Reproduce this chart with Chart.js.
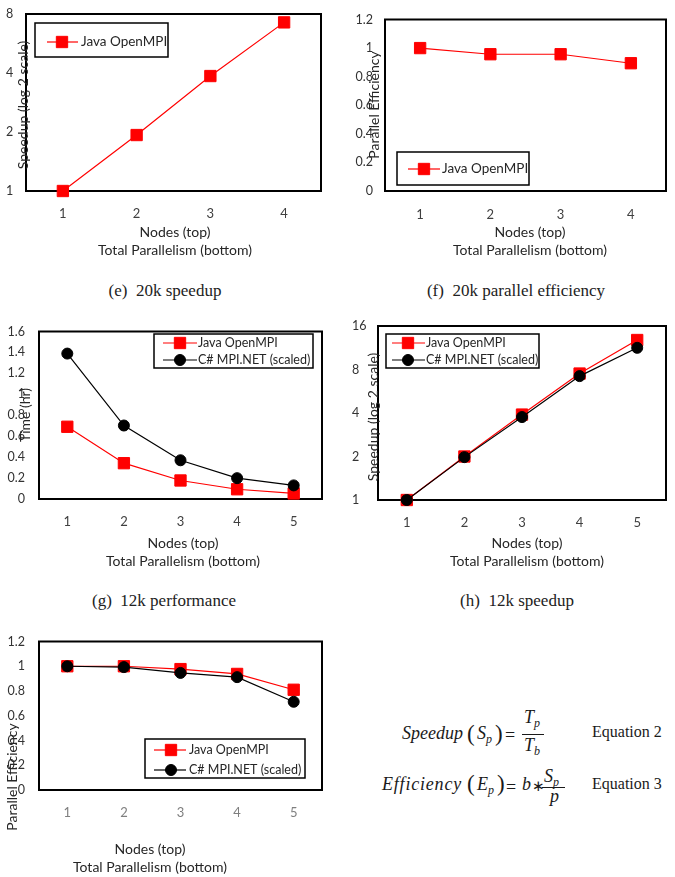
<!DOCTYPE html>
<html><head><meta charset="utf-8">
<script src="https://cdn.jsdelivr.net/npm/chart.js@4.4.1/dist/chart.umd.min.js"></script>
<style>
html,body{margin:0;padding:0;background:#fff;}
body{width:675px;height:877px;position:relative;overflow:hidden;}
canvas{position:absolute;}
.t{position:absolute;white-space:pre;line-height:1;transform:translateY(-50%);color:#1a1a1a;font-family:"Liberation Serif","Times New Roman",serif;}
.cap{font-size:17px;transform:translate(-50%,-50%);color:#222;}
.i{font-style:italic;font-size:18px;}
.sub{font-style:italic;font-size:12px;position:relative;top:4px;}
.par{font-size:23px;}
.bar{position:absolute;height:1px;background:#1a1a1a;}
</style></head><body>
<canvas id="cE" width="340" height="265" style="left:0;top:0"></canvas>
<canvas id="cF" width="335" height="265" style="left:340px;top:0"></canvas>
<canvas id="cG" width="340" height="270" style="left:0;top:310px"></canvas>
<canvas id="cH" width="335" height="270" style="left:340px;top:310px"></canvas>
<canvas id="cI" width="340" height="257" style="left:0;top:620px"></canvas>

<div class="t cap" style="left:165px;top:290px">(e)  20k speedup</div>
<div class="t cap" style="left:516px;top:290px">(f)  20k parallel efficiency</div>
<div class="t cap" style="left:164px;top:600px">(g)  12k performance</div>
<div class="t cap" style="left:517px;top:600px">(h)  12k speedup</div>

<!-- Equation 2 -->
<div class="t i" style="left:402px;top:733px">Speedup</div>
<div class="t par" style="left:467px;top:733px">(</div>
<div class="t i" style="left:477px;top:733px">S<span class="sub">p</span></div>
<div class="t par" style="left:495px;top:733px">)</div>
<div class="t" style="left:505px;top:735px;font-size:18px">=</div>
<div class="t i" style="left:524px;top:717px">T<span class="sub">p</span></div>
<div class="bar" style="left:522px;top:734px;width:22px"></div>
<div class="t i" style="left:524px;top:745px">T<span class="sub">b</span></div>
<div class="t" style="left:592px;top:732px;font-size:16px">Equation 2</div>

<!-- Equation 3 -->
<div class="t i" style="left:382px;top:784px;letter-spacing:0.8px">Efficiency</div>
<div class="t par" style="left:467px;top:783px">(</div>
<div class="t i" style="left:477px;top:784px">E<span class="sub">p</span></div>
<div class="t par" style="left:497px;top:783px">)</div>
<div class="t" style="left:506px;top:787px;font-size:18px">=</div>
<div class="t i" style="left:522px;top:784px">b</div>
<div class="t" style="left:532px;top:786px;font-size:15px">∗</div>
<div class="t i" style="left:544px;top:776px">S<span class="sub">p</span></div>
<div class="bar" style="left:542px;top:787px;width:23px"></div>
<div class="t i" style="left:550px;top:796px">p</div>
<div class="t" style="left:592px;top:784px;font-size:16px">Equation 3</div>

<script>
// ---------------- data ----------------
const nodes4 = ['1', '2', '3', '4'];
const nodes5 = ['1', '2', '3', '4', '5'];
const speedup20kJava = [1, 1.93, 3.86, 7.25];
const eff20kJava = [1.0, 0.957, 0.957, 0.894];
const time12kJava = [0.69, 0.342, 0.177, 0.093, 0.053];
const time12kCs = [1.389, 0.702, 0.37, 0.199, 0.13];
const speedup12kJava = [1, 2.0, 3.9, 7.5, 12.8];
const speedup12kCs = [1, 1.98, 3.75, 7.2, 11.3];
const eff12kJava = [1.0, 1.0, 0.977, 0.938, 0.81];
const eff12kCs = [1.0, 0.993, 0.946, 0.912, 0.713];
const ticksLog8 = [1, 2, 4, 8];
const ticksLog16 = [1, 2, 4, 8, 16];
const ticksEff = [0, 0.2, 0.4, 0.6, 0.8, 1, 1.2];
const ticksTime = [0, 0.2, 0.4, 0.6, 0.8, 1, 1.2, 1.4, 1.6];
const nameJava = 'Java OpenMPI';
const nameCs = 'C# MPI.NET (scaled)';

// ---------------- styles ----------------
function javaDs(data) {
  return { label: nameJava, data, borderColor: '#ff0000', backgroundColor: '#ff0000',
    borderWidth: 1.2, pointStyle: 'rect', pointRadius: 8, pointBorderWidth: 1,
    pointBorderColor: '#ff0000', tension: 0, clip: false, order: 1 };
}
function csDs(data) {
  return { label: nameCs, data, borderColor: '#000000', backgroundColor: '#000000',
    borderWidth: 1.2, pointStyle: 'circle', pointRadius: 5.5, pointBorderWidth: 1,
    pointBorderColor: '#000000', tension: 0, clip: false, order: 0 };
}

const decoPlugin = {
  id: 'deco',
  beforeDatasetsDraw(chart, args, o) {
    const { ctx, chartArea: a } = chart;
    ctx.save();
    ctx.strokeStyle = '#000';
    ctx.lineWidth = 2;
    ctx.strokeRect(a.left, a.top, a.right - a.left, a.bottom - a.top);
    ctx.restore();
  },
  afterDraw(chart, args, o) {
    const ctx = chart.ctx;
    ctx.save();
    ctx.fillStyle = '#262626';
    ctx.textBaseline = 'middle';
    ctx.font = '14px Lato';
    ctx.textAlign = 'center';
    o.xTitle.lines.forEach((t, i) => ctx.fillText(t, o.xTitle.x, o.xTitle.y[i]));
    ctx.save();
    ctx.translate(o.yTitle.x, o.yTitle.y);
    ctx.rotate(-Math.PI / 2);
    ctx.fillText(o.yTitle.text, 0, 0);
    ctx.restore();
    const L = o.legend;
    ctx.fillStyle = '#fff';
    ctx.fillRect(L.box[0], L.box[1], L.box[2] - L.box[0], L.box[3] - L.box[1]);
    ctx.strokeStyle = '#000';
    ctx.lineWidth = 1.5;
    ctx.strokeRect(L.box[0], L.box[1], L.box[2] - L.box[0], L.box[3] - L.box[1]);
    chart.data.datasets.forEach((ds, i) => {
      const y = L.rows[i];
      ctx.strokeStyle = ds.borderColor;
      ctx.lineWidth = 1.2;
      ctx.beginPath();
      ctx.moveTo(L.line[0], y); ctx.lineTo(L.line[1], y); ctx.stroke();
      ctx.fillStyle = ds.backgroundColor;
      ctx.strokeStyle = ds.pointBorderColor;
      ctx.lineWidth = 1;
      Chart.helpers.drawPoint(ctx, { pointStyle: ds.pointStyle, radius: ds.pointRadius, borderWidth: 1, rotation: 0 }, L.marker, y);
      ctx.fillStyle = '#262626';
      ctx.font = L.font + 'px Lato';
      ctx.textAlign = 'left';
      ctx.fillText(ds.label, L.text, y);
    });
    ctx.restore();
  }
};

function fmt(v) { return String(+(+v).toFixed(2)); }

function makeChart(id, c) {
  return new Chart(document.getElementById(id), {
    type: 'line',
    data: { labels: c.labels, datasets: c.datasets },
    options: {
      responsive: false, animation: false, devicePixelRatio: 1,
      layout: { padding: c.padding },
      plugins: { legend: { display: false }, tooltip: { enabled: false }, deco: c.deco },
      scales: {
        x: {
          type: 'category', offset: true,
          grid: { display: false, drawTicks: false }, border: { display: false },
          ticks: { color: c.xColor || '#404040', font: { family: 'Lato', size: 13 }, padding: c.xPad, maxRotation: 0, autoSkip: false },
          afterFit: s => { s.height = c.xH; }
        },
        y: {
          type: c.yType, min: c.yTicks[0], max: c.yTicks[c.yTicks.length - 1],
          grid: { display: false, drawTicks: false }, border: { display: false },
          ticks: { crossAlign: c.cross, padding: c.yPad, color: '#333333', font: { family: 'Lato', size: 12.5 }, callback: v => fmt(v) },
          afterBuildTicks: s => { s.ticks = c.yTicks.map(v => ({ value: v })); },
          afterFit: s => { s.width = c.yW; }
        }
      }
    },
    plugins: [decoPlugin]
  });
}

// (e) 20k speedup
makeChart('cE', {
  labels: nodes4, datasets: [javaDs(speedup20kJava)],
  yType: 'logarithmic', yTicks: ticksLog8, cross: 'far', yPad: 0, yW: 20, xH: 74, xPad: 15,
  padding: { left: 6, top: 14, right: 19, bottom: 0 },
  deco: {
    xTitle: { x: 175, y: [232, 250], lines: ['Nodes (top)', 'Total Parallelism (bottom)'] },
    yTitle: { x: 23, y: 105, text: 'Speedup (log 2 scale)' },
    legend: { box: [35, 23, 168, 57], rows: [42], line: [47, 78], marker: 62, text: 81, font: 13.5 }
  }
});

// (f) 20k parallel efficiency
makeChart('cF', {
  labels: nodes4, datasets: [javaDs(eff20kJava)],
  yType: 'linear', yTicks: ticksEff, cross: 'near', yPad: 12, yW: 45, xH: 74, xPad: 16,
  padding: { left: 0, top: 14, right: 6, bottom: 0 },
  deco: {
    xTitle: { x: 190, y: [232, 250], lines: ['Nodes (top)', 'Total Parallelism (bottom)'] },
    yTitle: { x: 34, y: 105, text: 'Parallel Efficiency' },
    legend: { box: [57, 152, 189, 185], rows: [169], line: [68, 100], marker: 84, text: 102, font: 13.5 }
  }
});

// (g) 12k performance
makeChart('cG', {
  labels: nodes5, datasets: [javaDs(time12kJava), csDs(time12kCs)],
  yType: 'linear', yTicks: ticksTime, cross: 'near', yPad: 14, yW: 39, xH: 81, xPad: 15,
  padding: { left: 0, top: 16, right: 18, bottom: 0 },
  deco: {
    xTitle: { x: 183, y: [233, 251], lines: ['Nodes (top)', 'Total Parallelism (bottom)'] },
    yTitle: { x: 25, y: 105, text: 'Time (hr)' },
    legend: { box: [154, 24, 313, 58], rows: [33, 50], line: [163, 197], marker: 180, text: 198, font: 12.5 }
  }
});

// (h) 12k speedup
makeChart('cH', {
  labels: nodes5, datasets: [javaDs(speedup12kJava), csDs(speedup12kCs)],
  yType: 'logarithmic', yTicks: ticksLog16, cross: 'far', yPad: 0, yW: 26, xH: 80, xPad: 15,
  padding: { left: 12, top: 16, right: 5, bottom: 0 },
  deco: {
    xTitle: { x: 187, y: [233, 251], lines: ['Nodes (top)', 'Total Parallelism (bottom)'] },
    yTitle: { x: 33, y: 107, text: 'Speedup (log 2 scale)' },
    legend: { box: [46, 24, 199, 58], rows: [33, 50], line: [52, 85], marker: 68, text: 86, font: 12.5 }
  }
});

// (i) 12k parallel efficiency
makeChart('cI', {
  labels: nodes5, datasets: [javaDs(eff12kJava), csDs(eff12kCs)],
  yType: 'linear', yTicks: ticksEff, cross: 'near', yPad: 14, yW: 39, xH: 87, xPad: 15, xColor: '#7f7f7f',
  padding: { left: 0, top: 15, right: 18, bottom: 0 },
  deco: {
    xTitle: { x: 150, y: [229, 247], lines: ['Nodes (top)', 'Total Parallelism (bottom)'] },
    yTitle: { x: 12, y: 157, text: 'Parallel Efficiency' },
    legend: { box: [145, 119, 305, 158], rows: [130, 150], line: [154, 186], marker: 171, text: 189, font: 12.5 }
  }
});
</script>
</body></html>
